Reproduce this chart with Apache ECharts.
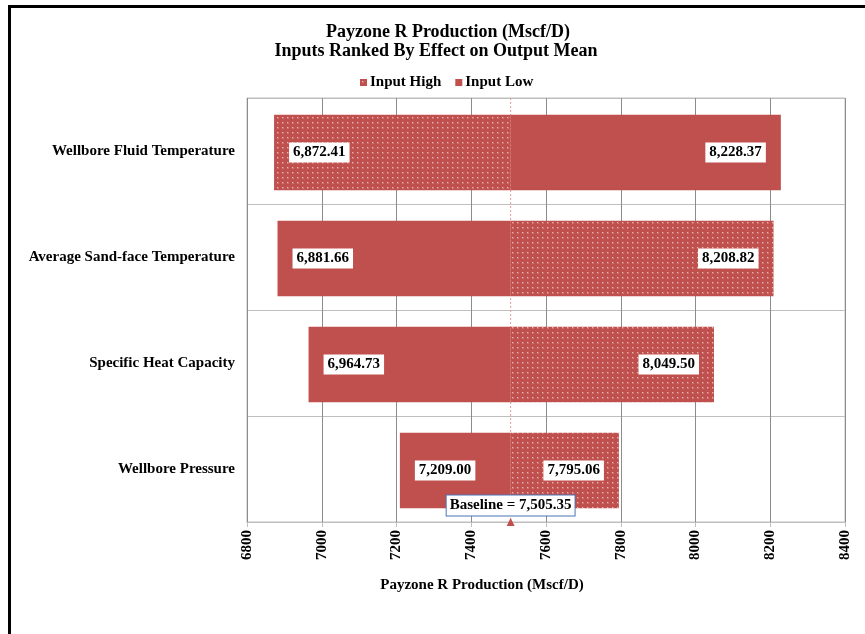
<!DOCTYPE html>
<html>
<head>
<meta charset="utf-8">
<script src="https://cdn.jsdelivr.net/npm/echarts@6/dist/echarts.min.js"></script>
<style>
  html, body { margin: 0; padding: 0; background: #fff; }
  #chart { width: 865px; height: 634px; }
</style>
</head>
<body>
<div id="chart"></div>
<script>
// Tornado chart: output value when each input is set to its high / low level
const categories = [
  'Wellbore Fluid Temperature',
  'Average Sand-face Temperature',
  'Specific Heat Capacity',
  'Wellbore Pressure'
];
const inputHigh = [6872.41, 8208.82, 8049.50, 7795.06];
const inputLow = [8228.37, 6881.66, 6964.73, 7209.00];
const baseline = 7505.35;
const axisMin = 6800;
const axisMax = 8400;
const axisStep = 200;

const RED = '#C0504D';
const FONT = '"Liberation Serif", "Times New Roman", serif';

// dotted fill used for the "Input High" bars
function makeDots() {
  const c = document.createElement('canvas');
  c.width = 5; c.height = 5;
  const g = c.getContext('2d');
  g.fillStyle = RED;
  g.fillRect(0, 0, 5, 5);
  g.fillStyle = 'rgba(255,255,255,0.2)';
  g.fillRect(2, 2, 2, 2);
  g.fillStyle = 'rgba(255,255,255,0.5)';
  g.fillRect(2, 2, 1, 1);
  return c;
}
const dotPattern = { image: makeDots(), repeat: 'repeat' };

const fmt = v => v.toLocaleString('en-US', { minimumFractionDigits: 2, maximumFractionDigits: 2 });

function barRenderer(fill) {
  return function (params, api) {
    const val = api.value(0);
    const cat = api.value(1);
    const pBase = api.coord([baseline, cat]);
    const pEnd = api.coord([val, cat]);
    const band = api.size([0, 1])[1];
    const h = band * 0.71;
    const x0 = Math.min(pBase[0], pEnd[0]);
    const w = Math.abs(pEnd[0] - pBase[0]);
    const yc = pBase[1] + 1.5;
    const left = val < baseline;
    return {
      type: 'group',
      children: [
        {
          type: 'rect',
          shape: { x: x0, y: yc - h / 2, width: w, height: h },
          style: { fill: fill }
        },
        {
          type: 'text',
          style: {
            text: fmt(val),
            x: left ? pEnd[0] + 15 : pEnd[0] - 15,
            y: yc,
            align: left ? 'left' : 'right',
            verticalAlign: 'middle',
            fill: '#000',
            font: 'bold 15px ' + FONT,
            backgroundColor: '#fff',
            padding: [3, 4, 2, 4]
          }
        }
      ]
    };
  };
}

const chart = echarts.init(document.getElementById('chart'), null, { renderer: 'canvas' });

chart.setOption({
  backgroundColor: '#fff',
  animation: false,
  title: [
    {
      text: 'Payzone R Production (Mscf/D)',
      left: 443, top: 18, textAlign: 'center',
      textStyle: { fontFamily: FONT, fontWeight: 'bold', fontSize: 18, color: '#000' }
    },
    {
      text: 'Inputs Ranked By Effect on Output Mean',
      left: 431, top: 37, textAlign: 'center',
      textStyle: { fontFamily: FONT, fontWeight: 'bold', fontSize: 18, color: '#000' }
    }
  ],
  legend: {
    data: ['Input High', 'Input Low'],
    top: 70, left: 355,
    itemWidth: 7, itemHeight: 7, itemGap: 14,
    icon: 'rect',
    textStyle: { fontFamily: FONT, fontWeight: 'bold', fontSize: 15, color: '#000', padding: [0, 0, 0, -2] }
  },
  grid: {
    left: 247, right: 20, top: 98, bottom: 112,
    show: true, borderColor: '#bfbfbf', borderWidth: 1
  },
  xAxis: {
    type: 'value',
    min: axisMin, max: axisMax, interval: axisStep,
    axisLine: { show: true, lineStyle: { color: '#bfbfbf' } },
    axisTick: { show: true, length: 5, lineStyle: { color: '#bfbfbf' } },
    splitLine: { show: true, lineStyle: { color: '#8c8c8c', width: 1 } },
    axisLabel: {
      rotate: 90, margin: 8, color: '#000',
      fontFamily: FONT, fontWeight: 'bold', fontSize: 15,
      formatter: v => String(v)
    }
  },
  yAxis: {
    type: 'category',
    data: categories,
    inverse: true,
    axisLine: { show: false },
    axisTick: { show: false },
    splitLine: { show: true, lineStyle: { color: '#bfbfbf', width: 1 } },
    axisLabel: {
      margin: 12, color: '#000',
      fontFamily: FONT, fontWeight: 'bold', fontSize: 15
    }
  },
  graphic: [
    {
      type: 'polyline',
      shape: { points: [[9.5, 634], [9.5, 6.5], [865, 6.5]] },
      style: { stroke: '#000', lineWidth: 3, fill: null }
    },
    {
      type: 'text',
      x: 482, y: 585,
      style: {
        text: 'Payzone R Production (Mscf/D)',
        align: 'center', verticalAlign: 'middle',
        fill: '#000', font: 'bold 15px ' + FONT
      }
    }
  ],
  series: [
    {
      name: 'baselineLine',
      type: 'custom',
      z: 1,
      silent: true,
      data: [[baseline, 0]],
      renderItem: function (params, api) {
        const cs = params.coordSys;
        const x = api.coord([api.value(0), 0])[0];
        return {
          type: 'line',
          shape: { x1: x, y1: cs.y, x2: x, y2: cs.y + cs.height },
          style: { stroke: '#e59a9a', lineWidth: 1, lineDash: [2, 2] }
        };
      }
    },
    {
      name: 'Input High',
      type: 'custom',
      z: 2,
      itemStyle: { color: dotPattern },
      encode: { x: 0, y: 1 },
      data: inputHigh.map((v, i) => [v, i]),
      renderItem: barRenderer(dotPattern)
    },
    {
      name: 'Input Low',
      type: 'custom',
      z: 2,
      itemStyle: { color: RED },
      encode: { x: 0, y: 1 },
      data: inputLow.map((v, i) => [v, i]),
      renderItem: barRenderer(RED)
    },
    {
      name: 'baselineMark',
      type: 'custom',
      z: 3,
      silent: true,
      data: [[baseline, 0]],
      renderItem: function (params, api) {
        const cs = params.coordSys;
        const x = api.coord([api.value(0), 0])[0];
        const yb = cs.y + cs.height;
        return {
          type: 'group',
          children: [
            {
              type: 'polygon',
              shape: { points: [[x - 4, yb + 4], [x + 4, yb + 4], [x, yb - 4]] },
              style: { fill: RED }
            },
            {
              type: 'text',
              style: {
                text: 'Baseline = ' + fmt(api.value(0)),
                x: x, y: yb - 16.5,
                align: 'center', verticalAlign: 'middle',
                fill: '#000', font: 'bold 15px ' + FONT,
                backgroundColor: '#fff',
                borderColor: '#4a74b5', borderWidth: 1,
                padding: [3, 3, 2, 3]
              }
            }
          ]
        };
      }
    }
  ]
});
</script>
</body>
</html>
